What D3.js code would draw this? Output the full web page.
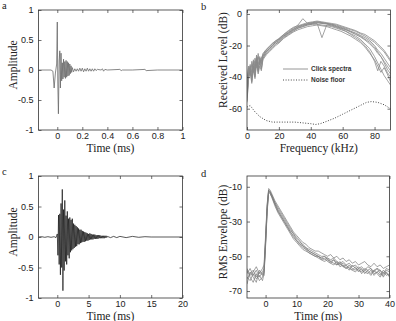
<!DOCTYPE html>
<html>
<head>
<meta charset="utf-8">
<script src="https://cdnjs.cloudflare.com/ajax/libs/d3/7.8.5/d3.min.js"></script>
<style>
  body { margin: 0; background: #fff; }
  .tick-lab { font-family: "Liberation Sans", Arial, sans-serif; font-size: 9px; fill: #222; }
  .ax-lab { font-family: "Liberation Serif", "Times New Roman", serif; font-size: 11.5px; fill: #222; }
  .panel-lab { font-family: "Liberation Serif", serif; font-size: 10.5px; fill: #222; }
  .leg { font-family: "Liberation Sans", Arial, sans-serif; font-size: 6.5px; font-weight: bold; fill: #333; }
</style>
</head>
<body>
<div id="figure"></div>
<script>
// ---- panel a : single click waveform ----
var tA = [-0.15,-0.05,-0.035,-0.025,-0.015,-0.005,0,0.004,0.009,0.015,0.02,0.025,0.03,0.035,0.04,0.045,0.05,0.055,0.06,0.065,0.07,0.075,0.08,0.085,0.09,0.095,0.1,0.105,0.11,0.115,0.12,0.13,0.14,0.15,0.16,0.17,0.18,0.19,0.2,0.21,0.22,0.23,0.24,0.25,0.26,0.27,0.28,0.29,0.3,0.31,0.32,0.35,0.36,0.37,0.38,0.4,0.5,0.51,0.52,0.6,0.7,0.71,0.8,0.9,1.0];
var ampA = [0,0,-0.02,-0.3,-0.05,0.1,0.8,-0.2,-0.73,0.15,0.32,-0.3,0.28,-0.18,0.12,-0.15,0.18,-0.12,0.14,-0.14,0.16,-0.12,0.14,-0.1,0.12,-0.09,0.1,-0.06,0.07,-0.04,0.04,-0.03,0.02,-0.02,0.02,-0.02,0.03,-0.02,0.03,-0.03,0.02,-0.02,0.03,-0.02,0.02,-0.02,0.02,-0.02,0.02,-0.01,0.01,0,0.02,-0.02,0.01,0,0.01,-0.01,0,0,0.01,-0.01,0,0,0];
var xTicksA = [0,0.2,0.4,0.6,0.8,1];
var yTicksA = [-1,-0.5,0,0.5,1];

// ---- panel b : click spectra and noise floor ----
var freqB = [0,1,2,3,4,5,6,7,8,9,10,12,14,16,18,20,23,26,29,32,35,38,41,44,47,50,53,56,59,62,65,68,71,74,77,80,82,84,86,88,90];
var spec1 = [-52,-38,-34,-40,-31,-37,-27,-34,-29,-32,-27,-24,-22,-20,-18,-17,-14,-12,-10,-8.5,-7.5,-6.5,-6,-5.5,-6,-6.5,-7,-8,-9,-10,-11.5,-13,-14.5,-16.5,-19,-22,-25,-27,-30,-33,-36];
var spec2 = [-45,-34,-38,-30,-36,-28,-33,-25,-31,-28,-26,-23,-21,-19,-17,-16,-13,-11,-9,-7,-3,-6,-5.5,-5,-5.5,-6,-6.5,-7,-8,-9,-10,-11,-12.5,-14,-16,-18,-20,-22,-24,-27,-30];
var spec3 = [-55,-40,-36,-42,-33,-39,-30,-36,-31,-34,-28,-25,-23,-21,-19,-18,-15,-13,-11,-9,-8,-7,-6.5,-6,-15,-7,-7.5,-8.5,-9.5,-11,-12.5,-14,-16,-19,-22,-27,-31,-35,-39,-42,-45];
var spec4 = [-48,-36,-32,-37,-29,-35,-26,-32,-27,-30,-26,-23,-21,-19,-17.5,-16,-13.5,-11.5,-9.5,-8,-7,-6,-5.5,-5,-5.5,-6,-6.5,-7.5,-8.5,-9.5,-11,-12,-13.5,-15,-17,-20,-23,-25,-28,-31,-34];
var spec5 = [-50,-40,-35,-43,-34,-40,-29,-37,-30,-35,-28,-25,-23,-21,-19,-17.5,-14.5,-12.5,-10.5,-9,-8,-7,-6.5,-6.5,-7,-7.5,-8,-9,-10,-11,-13,-15,-17,-20,-24,-30,-36,-30,-33,-37,-40];
var spec6 = [-53,-37,-33,-39,-30,-36,-28,-35,-28,-31,-27,-24,-22,-20,-18,-16.5,-14,-12,-10,-8,-7,-6.5,-6,-5.5,-6,-6,-7,-8,-9,-10,-11,-12.5,-14,-16,-18,-21,-24,-27,-31,-35,-38];
var spec7 = [-42,-33,-39,-32,-37,-30,-34,-27,-32,-29,-25,-22.5,-20.5,-18.5,-17,-15.5,-13,-10.5,-8.5,-7.5,-6.5,-5.5,-5,-4.5,-5,-5.5,-6,-6.5,-7.5,-8.5,-9.5,-10.5,-12,-13,-15,-17,-19,-21,-23,-26,-29];
var spec8 = [-56,-41,-37,-44,-35,-41,-31,-38,-33,-36,-29,-26,-24,-22,-20,-18.5,-15.5,-13.5,-11.5,-10,-9,-8,-7.5,-7,-7.5,-8,-9,-10,-11,-12.5,-14,-16,-18,-21,-25,-29,-33,-37,-34,-38,-43];
var freqNoise = [0,2,5,8,12,16,20,25,30,35,40,43,46,50,55,60,65,70,75,78,82,86,90];
var noiseFloor = [-59,-58,-62,-65,-67.5,-68.5,-68.5,-68.5,-68.5,-69,-69.5,-70,-69.5,-68,-66,-63.5,-61,-58.5,-56,-55.5,-56,-57.5,-60];
var xTicksB = [0,20,40,60,80];
var yTicksB = [-60,-40,-20,0];
var legendB = ["Click spectra", "Noise floor"];

// ---- panel c : reverberant click waveform ----
var tC = [-3,-2.5,-2,-1.5,-1,-0.5,-0.2,
  0,0.1,0.2,0.3,0.4,0.5,0.6,0.7,0.8,0.9,
  1,1.1,1.2,1.3,1.4,1.5,1.6,1.7,1.8,1.9,
  2,2.1,2.2,2.3,2.4,2.5,2.6,2.7,2.8,2.9,
  3,3.1,3.2,3.3,3.4,3.5,3.6,3.7,3.8,3.9,
  4,4.1,4.2,4.3,4.4,4.5,4.6,4.7,4.8,4.9,
  5,5.1,5.2,5.3,5.4,5.5,5.6,5.7,5.8,5.9,
  6,6.1,6.2,6.3,6.4,6.5,6.6,6.7,6.8,6.9,
  7,7.1,7.2,7.3,7.4,7.5,7.6,7.7,7.8,7.9,
  8,8.5,9,9.5,10,11,12,13,14,15,20];
var ampC = [0,0.005,-0.005,0.005,-0.005,0.005,-0.01,
  0.05,-0.3,0.36,-0.45,0.38,-0.62,0.55,-0.5,0.78,-0.88,
  0.45,-0.55,0.6,-0.4,0.35,-0.45,0.42,-0.3,0.3,-0.35,
  0.32,-0.25,0.28,-0.22,0.3,-0.2,0.22,-0.18,0.2,-0.16,
  0.18,-0.15,0.16,-0.12,0.14,-0.12,0.12,-0.1,0.12,-0.09,
  0.1,-0.08,0.09,-0.08,0.08,-0.07,0.07,-0.06,0.06,-0.06,
  0.05,-0.05,0.06,-0.04,0.05,-0.04,0.04,-0.04,0.04,-0.03,
  0.04,-0.03,0.03,-0.03,0.03,-0.03,0.03,-0.02,0.03,-0.02,
  0.02,-0.02,0.02,-0.02,0.02,-0.02,0.02,-0.01,0.02,-0.01,
  0.01,-0.01,0.01,-0.01,0.01,-0.01,0.01,-0.005,0.005,0,0];
var xTicksC = [0,5,10,15,20];
var yTicksC = [-1,-0.5,0,0.5,1];

// ---- panel d : RMS envelopes ----
var tD = [-6,-5,-4,-3,-2,-1,-0.5,0,0.5,1,1.5,2,3,4,5,6,7,8,9,10,11,12,13,14,15,16,17,18,19,20,21,22,23,24,25,26,27,28,29,30,31,32,33,34,35,36,37,38,39,40];
var env1 = [-60,-57,-61,-58,-62,-59,-57,-40,-22,-12,-13,-15,-19,-23,-26,-29,-32,-35,-37,-40,-42,-43,-45,-46,-47,-48,-49,-50,-50,-51,-52,-51,-53,-54,-53,-55,-54,-56,-55,-57,-56,-58,-56,-57,-59,-57,-58,-60,-57,-58];
var env2 = [-63,-60,-58,-62,-59,-61,-58,-42,-24,-13,-14,-16,-21,-25,-28,-31,-34,-37,-40,-42,-44,-46,-47,-48,-49,-50,-51,-52,-51,-53,-54,-52,-55,-54,-56,-55,-57,-58,-56,-59,-57,-60,-58,-57,-60,-59,-61,-58,-60,-61];
var env3 = [-57,-61,-59,-56,-60,-57,-55,-38,-20,-11,-12,-14,-18,-21,-24,-27,-30,-33,-36,-38,-40,-42,-43,-45,-46,-47,-47,-48,-49,-50,-49,-51,-50,-52,-51,-53,-52,-54,-53,-55,-54,-53,-55,-56,-54,-56,-55,-57,-56,-55];
var env4 = [-62,-64,-60,-63,-61,-64,-60,-44,-25,-13,-14,-16,-20,-24,-27,-30,-33,-36,-39,-41,-43,-45,-46,-48,-49,-50,-50,-52,-53,-52,-54,-55,-53,-56,-55,-57,-56,-58,-59,-57,-60,-58,-59,-61,-58,-60,-62,-59,-61,-60];
var env5 = [-58,-62,-65,-60,-64,-62,-59,-41,-21,-12,-13,-15,-20,-24,-27,-30,-33,-36,-38,-41,-43,-44,-46,-47,-48,-49,-50,-51,-52,-51,-53,-54,-55,-53,-56,-57,-55,-57,-58,-56,-58,-59,-60,-58,-61,-59,-58,-62,-59,-62];
var env6 = [-66,-59,-62,-65,-58,-60,-61,-43,-23,-12,-13,-15,-19,-22,-25,-28,-31,-34,-37,-39,-41,-44,-45,-47,-48,-49,-50,-51,-50,-52,-53,-52,-54,-55,-54,-56,-58,-55,-57,-58,-59,-57,-58,-60,-58,-57,-60,-61,-58,-59];
var xTicksD = [0,10,20,30,40];
var yTicksD = [-70,-50,-30,-10];

var width = 396, height = 321;

var svg = d3.select("#figure").append("svg")
    .attr("width", width)
    .attr("height", height)
    .style("display", "block");

svg.append("rect").attr("width", width).attr("height", height).attr("fill", "#fff");

// plain labels like "0.5", "-1", "0" (no padding zeros)
function fmt(d) { return String(d).replace("\u2212", "-"); }

// one panel: box, inward ticks on all four sides, labels, clipped plot group
function makePanel(cfg) {
  var x = d3.scaleLinear().domain(cfg.xDomain).range([cfg.left, cfg.right]);
  var y = d3.scaleLinear().domain(cfg.yDomain).range([cfg.bottom, cfg.top]);
  var tl = 3;

  svg.append("clipPath").attr("id", "clip-" + cfg.name)
    .append("rect")
      .attr("x", cfg.left).attr("y", cfg.top)
      .attr("width", cfg.right - cfg.left).attr("height", cfg.bottom - cfg.top);

  var plot = svg.append("g").attr("clip-path", "url(#clip-" + cfg.name + ")");

  var ax = svg.append("g");
  ax.append("g")
    .attr("transform", "translate(0," + cfg.bottom + ")")
    .call(d3.axisBottom(x).tickValues(cfg.xTicks).tickFormat(fmt).tickSizeInner(-tl).tickSizeOuter(0).tickPadding(3))
    .call(function(g) { g.select(".domain").remove(); });
  ax.append("g")
    .attr("transform", "translate(0," + cfg.top + ")")
    .call(d3.axisTop(x).tickValues(cfg.xTicks).tickSizeInner(-tl).tickSizeOuter(0).tickFormat(""))
    .call(function(g) { g.select(".domain").remove(); });
  ax.append("g")
    .attr("transform", "translate(" + cfg.left + ",0)")
    .call(d3.axisLeft(y).tickValues(cfg.yTicks).tickFormat(fmt).tickSizeInner(-tl).tickSizeOuter(0).tickPadding(5))
    .call(function(g) { g.select(".domain").remove(); });
  ax.append("g")
    .attr("transform", "translate(" + cfg.right + ",0)")
    .call(d3.axisRight(y).tickValues(cfg.yTicks).tickSizeInner(-tl).tickSizeOuter(0).tickFormat(""))
    .call(function(g) { g.select(".domain").remove(); });

  ax.selectAll(".tick line").attr("stroke", "#333").attr("stroke-width", 0.7);
  ax.selectAll(".tick text").attr("class", "tick-lab").attr("fill", null);
  ax.selectAll("g").attr("font-family", null).attr("font-size", null);

  ax.append("rect")
    .attr("x", cfg.left).attr("y", cfg.top)
    .attr("width", cfg.right - cfg.left).attr("height", cfg.bottom - cfg.top)
    .attr("fill", "none").attr("stroke", "#333").attr("stroke-width", 0.8);

  svg.append("text").attr("class", "ax-lab")
    .attr("x", (cfg.left + cfg.right) / 2).attr("y", cfg.xLabY)
    .attr("text-anchor", "middle").text(cfg.xLabel);
  svg.append("text").attr("class", "ax-lab")
    .attr("transform", "translate(" + cfg.yLabX + "," + cfg.yLabCy + ") rotate(-90)")
    .attr("text-anchor", "middle").text(cfg.yLabel);
  svg.append("text").attr("class", "panel-lab")
    .attr("x", cfg.letterX).attr("y", cfg.letterY).text(cfg.name);

  return { x: x, y: y, plot: plot };
}

function drawSeries(p, xs, ys, color, w, dash) {
  var line = d3.line().x(function(d) { return p.x(d[0]); }).y(function(d) { return p.y(d[1]); });
  var path = p.plot.append("path")
    .datum(d3.zip(xs, ys))
    .attr("d", line)
    .attr("fill", "none")
    .attr("stroke", color)
    .attr("stroke-width", w)
    .attr("stroke-linejoin", "round");
  if (dash) path.attr("stroke-dasharray", dash);
  return path;
}

// a
var pa = makePanel({ name: "a", left: 38.5, right: 182.5, top: 10, bottom: 130,
  xDomain: [-0.15, 1], yDomain: [-1, 1], xTicks: xTicksA, yTicks: yTicksA,
  xLabel: "Time (ms)", yLabel: "Amplitude", xLabY: 152, yLabX: 17, yLabCy: 65,
  letterX: 2, letterY: 9 });
drawSeries(pa, tA, ampA, "#6a6a6a", 0.8);

// b
var pb = makePanel({ name: "b", left: 247, right: 390.5, top: 10, bottom: 130,
  xDomain: [0, 90], yDomain: [-73.5, 2.5], xTicks: xTicksB, yTicks: yTicksB,
  xLabel: "Frequency (kHz)", yLabel: "Received Level (dB)", xLabY: 152, yLabX: 227, yLabCy: 60,
  letterX: 201, letterY: 10 });
[spec1, spec2, spec3, spec4, spec5, spec6, spec7, spec8].forEach(function(s) {
  drawSeries(pb, freqB, s, "#8a8a8a", 0.8);
});
drawSeries(pb, freqNoise, noiseFloor, "#333", 0.9, "1,1.6");

// legend inside b
var legY = [69, 80];
svg.append("line").attr("x1", 283).attr("x2", 308).attr("y1", legY[0]).attr("y2", legY[0])
  .attr("stroke", "#8a8a8a").attr("stroke-width", 0.9);
svg.append("line").attr("x1", 283).attr("x2", 308).attr("y1", legY[1]).attr("y2", legY[1])
  .attr("stroke", "#333").attr("stroke-width", 0.9).attr("stroke-dasharray", "1,1.6");
legendB.forEach(function(t, i) {
  svg.append("text").attr("class", "leg").attr("x", 311).attr("y", legY[i] + 2.3).text(t);
});

// c
var pc = makePanel({ name: "c", left: 38.5, right: 182.5, top: 176, bottom: 298,
  xDomain: [-3, 20], yDomain: [-1, 1], xTicks: xTicksC, yTicks: yTicksC,
  xLabel: "Time (ms)", yLabel: "Amplitude", xLabY: 319.5, yLabX: 17, yLabCy: 232,
  letterX: 2, letterY: 175 });
drawSeries(pc, tC, ampC, "#111", 0.7);

// d
var pd = makePanel({ name: "d", left: 247, right: 389.5, top: 176, bottom: 298,
  xDomain: [-6, 40], yDomain: [-74, -3.8], xTicks: xTicksD, yTicks: yTicksD,
  xLabel: "Time (ms)", yLabel: "RMS Envelope (dB)", xLabY: 319.5, yLabX: 227, yLabCy: 232,
  letterX: 201, letterY: 177 });
[env1, env2, env3, env4, env5, env6].forEach(function(s) {
  drawSeries(pd, tD, s, "#7a7a7a", 0.7);
});
</script>
</body>
</html>
